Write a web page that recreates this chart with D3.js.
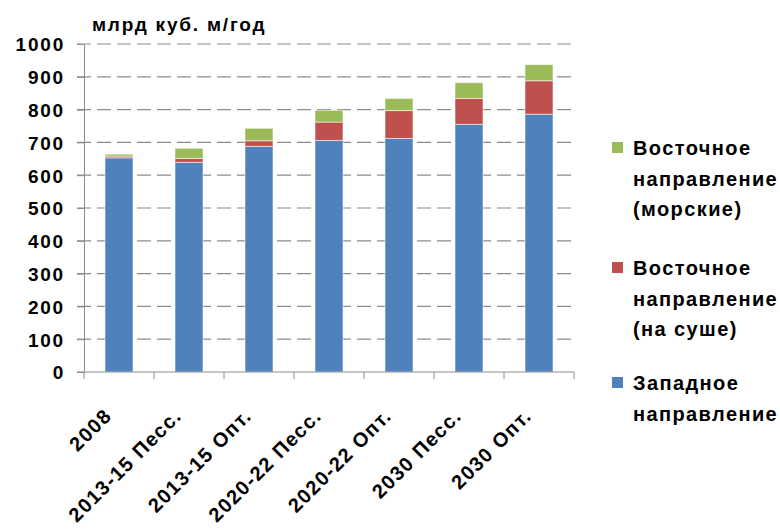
<!DOCTYPE html>
<html>
<head>
<meta charset="utf-8">
<script src="https://cdn.jsdelivr.net/npm/d3@7"></script>
<style>
  html, body { margin: 0; padding: 0; background: #fff; }
  svg { display: block; }
  text { font-family: "Liberation Sans", Arial, sans-serif; font-weight: bold; fill: #000; }
</style>
</head>
<body>
<svg id="chart" width="780" height="531"></svg>
<script>
// Gas export volumes by direction, bcm per year
const categories = ["2008", "2013-15 Песс.", "2013-15 Опт.", "2020-22 Песс.", "2020-22 Опт.", "2030 Песс.", "2030 Опт."];
const western = [653, 639, 688, 706, 712, 755, 786];
const easternLand = [5, 12, 17, 56, 85, 79, 102];
const easternSea = [6, 31, 38, 36, 37, 48, 49];
const yTicks = [0, 100, 200, 300, 400, 500, 600, 700, 800, 900, 1000];

const colors = ["#4f81bd", "#c0504d", "#9bbb59"];
const legendLines = [
  ["Восточное", "направление", "(морские)"],
  ["Восточное", "направление", "(на суше)"],
  ["Западное", "направление"]
];

const svg = d3.select("#chart");
const margin = { left: 84, right: 206, top: 44, bottom: 159 };
const W = 780, H = 531;
const x0 = margin.left, x1 = W - margin.right;
const yTop = margin.top, yBottom = H - margin.bottom;

const x = d3.scaleBand().domain(categories).range([x0, x1]).padding(0);
const y = d3.scaleLinear().domain([0, 1000]).range([yBottom, yTop]);

// stacked data
const rows = categories.map((c, i) => ({ cat: c, w: western[i], l: easternLand[i], s: easternSea[i] }));
const layers = d3.stack().keys(["w", "l", "s"])(rows);

// gridlines
svg.append("g").selectAll("line").data(yTicks.filter(d => d > 0)).join("line")
  .attr("x1", x0 - 7).attr("x2", x1)
  .attr("y1", d => y(d)).attr("y2", d => y(d))
  .attr("stroke", "#8c8c8c").attr("stroke-width", 1.2)
  .attr("stroke-dasharray", "14,6");

// bars
const barW = x.bandwidth() * 0.4;
svg.append("g").selectAll("g").data(layers).join("g")
  .attr("fill", (d, i) => colors[i])
  .selectAll("rect").data(d => d).join("rect")
  .attr("x", d => x(d.data.cat) + x.bandwidth() / 2 - barW / 2)
  .attr("width", barW)
  .attr("y", d => y(d[1]))
  .attr("height", d => y(d[0]) - y(d[1]))
  .attr("stroke", "rgba(255,255,255,0.55)")
  .attr("stroke-width", 1);

// y axis
const yAxis = d3.axisLeft(y).tickValues(yTicks).tickFormat(d3.format("d"))
  .tickSize(7).tickPadding(12).tickSizeOuter(0);
const gy = svg.append("g").attr("transform", `translate(${x0},0)`).call(yAxis);
gy.select(".domain").attr("stroke", "#8c8c8c");
gy.selectAll(".tick line").attr("stroke", "#8c8c8c");
gy.selectAll(".tick text").style("font-size", "19px").style("font-family", "'Liberation Sans', Arial, sans-serif")
  .style("font-weight", "bold").style("letter-spacing", "1.8px").attr("fill", "#000").attr("dy", "0.36em");

// x axis with ticks at category boundaries
const gx = svg.append("g");
gx.append("line").attr("x1", x0 - 7).attr("x2", x1).attr("y1", yBottom).attr("y2", yBottom)
  .attr("stroke", "#8c8c8c");
gx.selectAll("line.tk").data(categories.map(c => x(c)).concat([x1])).join("line").attr("class", "tk")
  .attr("x1", d => d).attr("x2", d => d).attr("y1", yBottom).attr("y2", yBottom + 7)
  .attr("stroke", "#8c8c8c");
gx.selectAll("text").data(categories).join("text")
  .attr("transform", d => `translate(${x(d) + x.bandwidth() / 2 - 6},${yBottom + 45}) rotate(-45)`)
  .attr("text-anchor", "end")
  .style("font-size", "20px")
  .style("letter-spacing", "1.4px")
  .text(d => d);

// unit title
svg.append("text").attr("x", 92).attr("y", 31).style("font-size", "19px")
  .style("letter-spacing", "1.8px").text("млрд куб. м/год");

// legend
const legend = svg.append("g");
const groupBaselines = [155, 275, 390];
legendLines.forEach((lines, gi) => {
  const si = 2 - gi;
  legend.append("rect").attr("x", 612).attr("y", groupBaselines[gi] - 13).attr("width", 11).attr("height", 11)
    .attr("fill", colors[si]);
  lines.forEach((ln, li) => {
    legend.append("text").attr("x", 633).attr("y", groupBaselines[gi] + li * 30.5)
      .style("font-size", "20px").style("letter-spacing", "1.4px").text(ln);
  });
});
</script>
</body>
</html>
